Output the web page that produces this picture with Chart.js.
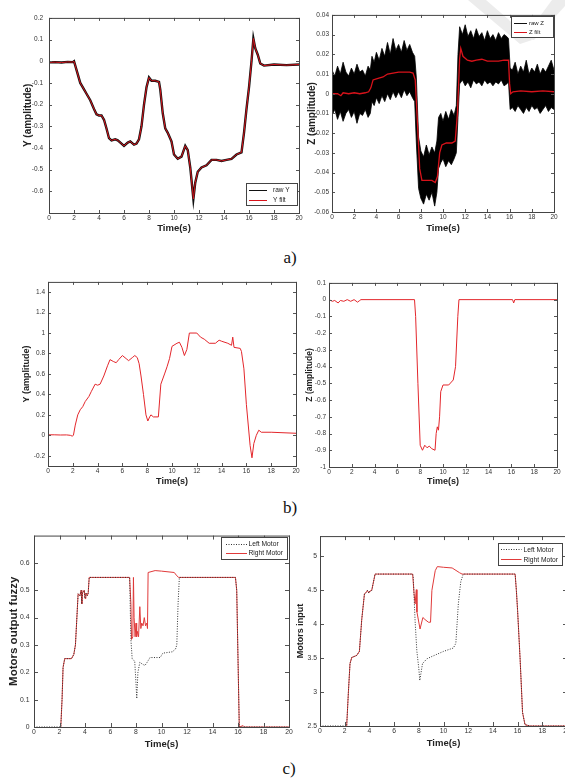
<!DOCTYPE html>
<html><head><meta charset="utf-8">
<script src="https://cdn.jsdelivr.net/npm/chart.js@4.4.1/dist/chart.umd.min.js"></script>
<style>
html,body{margin:0;padding:0;background:#fff;}
body{width:565px;height:778px;overflow:hidden;position:relative;}
canvas{position:absolute;}
.lab{position:absolute;font-family:"Liberation Serif","Times New Roman",serif;font-size:17px;color:#111;transform:translate(-50%,-50%);}
#wm{position:absolute;left:0;top:0;}
</style></head><body>
<svg id="wm" width="565" height="778"><polygon points="468,0 486,0 532,40 520,44" fill="#ececec"/><polygon points="552,0 565,0 565,6 534,40 524,38" fill="#ececec"/></svg>
<canvas id="a1"></canvas><canvas id="a2"></canvas>
<canvas id="b1"></canvas><canvas id="b2"></canvas>
<canvas id="c1"></canvas><canvas id="c2"></canvas>
<div class="lab" style="left:290px;top:258px">a)</div>
<div class="lab" style="left:290px;top:508px">b)</div>
<div class="lab" style="left:289px;top:769px">c)</div>
<script>
// ---------- DATA ----------
const xTicks=[0,2,4,6,8,10,12,14,16,18,20];

// a) left : Y raw / Y filt
const yT=[0,0.5,1,1.5,1.9,2.0,2.2,2.5,2.8,3.0,3.3,3.6,3.8,4.0,4.2,4.4,4.6,4.8,5.0,5.3,5.5,5.8,6.0,6.3,6.5,6.8,7.0,7.2,7.4,7.6,7.8,8.0,8.2,8.5,8.8,8.9,9.1,9.3,9.5,9.8,10.0,10.3,10.6,10.9,11.1,11.3,11.55,11.7,11.9,12.2,12.6,13.0,13.4,13.8,14.2,14.6,15.0,15.4,15.6,15.8,16.0,16.2,16.35,16.5,16.7,16.9,17.2,18,19,20];
const yFilt=[-0.005,-0.004,-0.006,-0.003,-0.004,0.0,-0.04,-0.1,-0.13,-0.15,-0.18,-0.22,-0.245,-0.25,-0.25,-0.27,-0.31,-0.355,-0.365,-0.36,-0.365,-0.38,-0.39,-0.375,-0.37,-0.385,-0.38,-0.36,-0.3,-0.2,-0.12,-0.075,-0.09,-0.09,-0.095,-0.13,-0.24,-0.31,-0.33,-0.37,-0.43,-0.45,-0.44,-0.39,-0.41,-0.49,-0.635,-0.56,-0.51,-0.49,-0.48,-0.455,-0.455,-0.46,-0.455,-0.45,-0.43,-0.42,-0.33,-0.22,-0.12,0.0,0.105,0.06,0.03,-0.01,-0.02,-0.015,-0.018,-0.015];
const yRaw=[-0.005,-0.004,-0.006,-0.003,-0.004,0.0,-0.04,-0.1,-0.13,-0.15,-0.18,-0.22,-0.245,-0.25,-0.25,-0.27,-0.31,-0.355,-0.365,-0.36,-0.365,-0.38,-0.39,-0.375,-0.37,-0.385,-0.38,-0.36,-0.3,-0.2,-0.12,-0.075,-0.09,-0.09,-0.095,-0.13,-0.24,-0.31,-0.33,-0.37,-0.43,-0.45,-0.44,-0.39,-0.41,-0.49,-0.635,-0.56,-0.51,-0.49,-0.48,-0.455,-0.455,-0.46,-0.455,-0.45,-0.43,-0.42,-0.33,-0.22,-0.12,0.0,0.105,0.06,0.03,-0.01,-0.02,-0.015,-0.018,-0.015];
const a1YTicks=[-0.6,-0.5,-0.4,-0.3,-0.2,-0.1,0,0.1,0.2];

// a) right : Z raw (band envelope) / Z filt
const zT=[0,0.5,0.8,1.0,1.5,2.0,2.5,3.0,3.3,3.5,3.7,4.0,4.3,4.6,5.0,5.5,6.0,6.5,7.0,7.3,7.5,7.7,7.9,8.1,8.5,9.0,9.3,9.5,9.7,9.9,10.3,10.8,11.1,11.3,11.5,11.6,11.8,12.2,12.6,13.0,13.5,14.0,14.5,15.0,15.5,15.9,16.0,16.1,16.3,17,18,19,20];
const zFilt=[0.0,0.0,-0.001,0.0005,0.0,0.0005,0.0,0.0005,0.001,0.003,0.007,0.0075,0.008,0.0085,0.01,0.0105,0.011,0.011,0.011,0.0105,0.007,-0.015,-0.038,-0.044,-0.044,-0.044,-0.045,-0.042,-0.03,-0.026,-0.025,-0.025,-0.024,-0.01,0.018,0.023,0.019,0.017,0.0165,0.017,0.0175,0.0165,0.0165,0.0165,0.017,0.017,0.005,0.0,0.001,0.0015,0.001,0.0015,0.001];
const zEnvT=[0,0.25,0.5,0.75,1,1.25,1.5,1.75,2,2.25,2.5,2.75,3,3.25,3.45,3.6,3.8,4,4.25,4.5,4.75,5,5.25,5.5,5.75,6,6.25,6.5,6.75,7,7.25,7.45,7.6,7.8,8,8.25,8.5,8.75,9,9.25,9.45,9.6,9.8,10,10.25,10.5,10.75,11,11.2,11.35,11.5,11.75,12,12.25,12.5,12.75,13,13.25,13.5,13.75,14,14.25,14.5,14.75,15,15.25,15.5,15.75,15.9,16.05,16.25,16.5,16.75,17,17.25,17.5,17.75,18,18.25,18.5,18.75,19,19.25,19.5,19.75,20];
const zRawUp=[0.012,0.009,0.014,0.010,0.016,0.011,0.009,0.013,0.010,0.015,0.011,0.012,0.009,0.014,0.012,0.019,0.016,0.021,0.017,0.023,0.019,0.026,0.020,0.028,0.022,0.025,0.021,0.027,0.022,0.025,0.021,0.019,0.008,-0.022,-0.029,-0.032,-0.026,-0.031,-0.027,-0.030,-0.024,-0.012,-0.010,-0.014,-0.009,-0.013,-0.008,-0.011,-0.006,0.020,0.034,0.030,0.035,0.029,0.032,0.028,0.033,0.029,0.031,0.027,0.032,0.028,0.030,0.027,0.031,0.028,0.030,0.029,0.028,0.013,0.012,0.016,0.010,0.014,0.011,0.017,0.010,0.013,0.011,0.015,0.010,0.013,0.011,0.014,0.017,0.012];
const zRawLo=[-0.011,-0.008,-0.013,-0.009,-0.014,-0.010,-0.008,-0.012,-0.009,-0.015,-0.010,-0.011,-0.008,-0.012,-0.010,-0.004,-0.006,-0.002,-0.005,-0.001,-0.004,0.000,-0.003,0.001,-0.002,0.001,-0.002,0.002,-0.001,0.001,-0.002,-0.004,-0.025,-0.048,-0.053,-0.056,-0.051,-0.054,-0.050,-0.057,-0.050,-0.038,-0.035,-0.033,-0.037,-0.034,-0.036,-0.033,-0.030,-0.012,0.005,0.007,0.004,0.006,0.003,0.007,0.005,0.006,0.004,0.007,0.005,0.006,0.004,0.006,0.005,0.007,0.004,0.005,0.006,-0.008,-0.007,-0.009,-0.006,-0.008,-0.010,-0.007,-0.009,-0.006,-0.008,-0.007,-0.010,-0.008,-0.006,-0.009,-0.007,-0.008];
const a2YTicks=[-0.06,-0.05,-0.04,-0.03,-0.02,-0.01,0,0.01,0.02,0.03,0.04];

// b) left : Y
const bT=[0,0.5,1,1.5,1.8,1.95,2.05,2.2,2.4,2.6,2.8,3.0,3.3,3.5,3.8,4.0,4.2,4.5,4.8,5.0,5.3,5.5,5.7,6.0,6.3,6.5,6.8,7.0,7.2,7.35,7.5,7.7,7.9,8.05,8.2,8.3,8.5,8.9,9.1,9.4,9.6,9.8,10.0,10.4,10.6,10.8,11.0,11.2,11.4,12.0,12.3,12.6,13.0,13.5,13.8,14.0,14.5,14.8,14.9,15.0,15.5,15.6,15.8,16.0,16.3,16.45,16.6,16.8,17.0,17.2,18,20];
const bY=[0.005,0.005,0.003,0.004,0.0,-0.008,0.0,0.1,0.2,0.25,0.28,0.33,0.38,0.43,0.5,0.49,0.5,0.58,0.68,0.74,0.72,0.71,0.74,0.78,0.75,0.73,0.76,0.78,0.76,0.7,0.58,0.4,0.2,0.14,0.18,0.2,0.18,0.18,0.5,0.6,0.67,0.75,0.87,0.9,0.91,0.86,0.78,0.84,1.0,1.0,0.96,0.94,0.9,0.9,0.93,0.92,0.9,0.88,0.96,0.86,0.85,0.82,0.65,0.3,-0.1,-0.22,-0.08,0.0,0.05,0.03,0.03,0.02];
const b1YTicks=[-0.2,0,0.2,0.4,0.6,0.8,1,1.2,1.4];

// b) right : Z
const bzT=[0,0.3,0.5,0.8,1.0,1.3,1.6,1.9,2.2,2.5,2.7,2.8,7.5,7.6,7.8,8.0,8.2,8.4,8.6,8.8,9.0,9.3,9.4,9.5,9.6,9.7,9.8,10.0,10.5,10.9,11.1,11.3,11.4,16.1,16.2,16.3,20];
const bZ=[0,-0.01,-0.005,-0.02,-0.005,-0.01,0,-0.01,0,-0.015,-0.005,0,0,-0.1,-0.5,-0.87,-0.9,-0.87,-0.885,-0.875,-0.89,-0.9,-0.8,-0.76,-0.78,-0.7,-0.55,-0.51,-0.51,-0.48,-0.4,-0.1,0,0,-0.02,0,0];
const b2YTicks=[-1,-0.9,-0.8,-0.7,-0.6,-0.5,-0.4,-0.3,-0.2,-0.1,0,0.1];

// c) left : Motors output fuzzy
const c1LT=[0,2.1,2.2,2.28,2.41,2.94,3.12,3.25,3.46,3.6,3.7,3.75,3.8,3.94,4.0,4.07,4.18,4.25,4.33,7.5,7.6,7.7,7.9,7.95,8.0,8.06,8.15,8.3,8.5,8.7,8.85,9.1,9.9,10.1,10.85,11.1,11.2,11.3,11.4,15.8,15.9,16.0,16.1,20];
const c1Left=[0,0,0.1,0.218,0.25,0.25,0.265,0.3,0.487,0.48,0.5,0.45,0.49,0.5,0.47,0.49,0.48,0.49,0.547,0.547,0.32,0.25,0.24,0.2,0.16,0.104,0.2,0.236,0.23,0.225,0.235,0.254,0.254,0.27,0.275,0.285,0.3,0.45,0.547,0.547,0.5,0.25,0.0,0];
const c1RT=[2.1,2.2,2.28,2.41,2.94,3.12,3.25,3.46,3.6,3.7,3.75,3.8,3.94,4.0,4.07,4.18,4.25,4.33,7.5,7.6,7.65,7.75,7.8,7.85,7.93,8.0,8.05,8.1,8.2,8.3,8.38,8.45,8.55,8.65,8.75,8.85,8.9,8.95,9.5,10.0,11.0,11.2,11.35,15.8,15.9,16.0,16.1,16.4,16.5,20];
const c1Right=[0,0.1,0.218,0.25,0.25,0.265,0.3,0.487,0.48,0.5,0.45,0.49,0.5,0.47,0.49,0.48,0.49,0.547,0.547,0.45,0.32,0.33,0.547,0.4,0.33,0.38,0.33,0.35,0.33,0.44,0.36,0.38,0.37,0.4,0.37,0.38,0.36,0.565,0.572,0.57,0.565,0.553,0.547,0.547,0.5,0.25,0.0,0.005,0.0,0];
const c1YTicks=[0,0.1,0.2,0.3,0.4,0.5,0.6];

// c) right : Motors input
const c2LT=[0,2.16,2.3,2.43,2.57,2.97,3.19,3.38,3.6,3.75,3.84,3.95,4.05,4.19,4.46,4.6,7.5,7.55,7.7,7.84,8.0,8.08,8.3,8.65,9.0,10.0,10.8,11.0,11.2,11.4,11.6,15.8,15.9,16.0,16.2,16.4,16.6,17.0,20];
const c2Left=[2.5,2.5,3.0,3.42,3.51,3.54,3.6,4.07,4.45,4.47,4.5,4.46,4.49,4.5,4.74,4.74,4.74,4.7,4.05,3.61,3.35,3.17,3.42,3.49,3.52,3.6,3.65,3.72,4.3,4.63,4.74,4.74,4.5,4.2,3.5,2.7,2.52,2.5,2.5];
const c2RT=[2.16,2.3,2.43,2.57,2.97,3.19,3.38,3.6,3.75,3.84,3.95,4.05,4.19,4.46,4.6,7.5,7.62,7.7,7.8,7.85,8.1,8.33,8.5,8.78,8.95,9.06,9.33,9.5,10.0,10.7,11.3,11.5,15.8,15.9,16.0,16.2,16.4,16.6,17.0,20];
const c2Right=[2.5,3.0,3.42,3.51,3.54,3.6,4.07,4.45,4.47,4.5,4.46,4.49,4.5,4.74,4.74,4.74,4.45,4.3,4.51,4.18,3.93,4.1,4.07,4.03,4.03,4.5,4.79,4.85,4.84,4.83,4.76,4.74,4.74,4.5,4.2,3.5,2.7,2.52,2.5,2.5];
const c2YTicks=[2.5,3,3.5,4,4.5,5];

// ---------- RENDERING ----------
const FF='"Liberation Sans", Arial, sans-serif';
function pts(t,v){return t.map((x,i)=>({x:x,y:v[i]}));}

const framePlugin={id:'frame',afterDatasetsDraw(chart,args,o){
  const {ctx,chartArea:c,scales:{x,y}}=chart;const L=o.len;
  ctx.save();ctx.strokeStyle='#555';ctx.lineWidth=1;ctx.beginPath();
  x.ticks.forEach(t=>{const p=Math.round(x.getPixelForValue(t.value))+0.5;
    ctx.moveTo(p,c.bottom);ctx.lineTo(p,c.bottom-L);ctx.moveTo(p,c.top);ctx.lineTo(p,c.top+L);});
  y.ticks.forEach(t=>{const p=Math.round(y.getPixelForValue(t.value))+0.5;
    ctx.moveTo(c.left,p);ctx.lineTo(c.left+L,p);ctx.moveTo(c.right,p);ctx.lineTo(c.right-L,p);});
  ctx.stroke();
  ctx.strokeStyle='#444';
  ctx.strokeRect(c.left+0.5,c.top+0.5,c.right-c.left,c.bottom-c.top);
  ctx.restore();
}};
const legendPlugin={id:'mleg',afterDraw(chart,args,o){
  if(!o||!o.box)return;
  const ctx=chart.ctx,ox=o.ox,oy=o.oy,b=o.box;
  ctx.save();
  ctx.fillStyle='#fff';ctx.fillRect(b[0]-ox,b[1]-oy,b[2]-b[0],b[3]-b[1]);
  ctx.strokeStyle='#444';ctx.lineWidth=1;
  ctx.strokeRect(Math.round(b[0]-ox)+0.5,Math.round(b[1]-oy)+0.5,b[2]-b[0],b[3]-b[1]);
  ctx.font=o.size+'px '+FF;ctx.textBaseline='middle';ctx.textAlign='left';
  o.items.forEach(it=>{
    ctx.beginPath();ctx.strokeStyle=it.color;ctx.lineWidth=1;ctx.setLineDash(it.dash||[]);
    const yy=Math.round(it.y-oy)+0.5;
    ctx.moveTo(o.lx[0]-ox,yy);ctx.lineTo(o.lx[1]-ox,yy);ctx.stroke();ctx.setLineDash([]);
    ctx.fillStyle='#222';ctx.fillText(it.label,o.tx-ox,it.y-oy+0.5);
  });
  ctx.restore();
}};

function makeChart(id,f,datasets,yTicks,legend){
  const lhY=f.ys*1.2,lhX=f.xs*1.2;
  const cl=Math.round(f.ytx-lhY/2),ct=f.T-6,cb=Math.round(f.xty+lhX/2);
  const wY=f.L-cl,hX=cb-f.B,W=f.R-cl+8,H=cb-ct;
  const cv=document.getElementById(id);
  cv.width=W;cv.height=H;cv.style.left=cl+'px';cv.style.top=ct+'px';
  const tf={size:f.tfs,family:FF};
  new Chart(cv,{type:'line',data:{datasets:datasets},options:{
    responsive:false,animation:false,devicePixelRatio:1,
    layout:{padding:{left:0,top:6,right:8,bottom:0}},
    elements:{point:{radius:0},line:{tension:0,borderWidth:1}},
    plugins:{legend:{display:false},tooltip:{enabled:false},frame:{len:f.tl},
      mleg:legend?Object.assign({ox:cl,oy:ct},legend):{}},
    scales:{
      x:{type:'linear',min:0,max:20,
        afterBuildTicks:s=>{s.ticks=xTicks.map(v=>({value:v}));},
        afterFit:s=>{s.height=hX;},
        grid:{display:false,drawTicks:false},border:{display:false},
        ticks:{font:tf,color:'#333',padding:f.xp,autoSkip:false,maxRotation:0,callback:v=>String(v)},
        title:{display:true,text:'Time(s)',font:{size:f.xs,weight:'bold',family:FF},color:'#222',padding:0}},
      y:{type:'linear',min:f.ymin,max:f.ymax,
        afterBuildTicks:s=>{s.ticks=yTicks.map(v=>({value:v}));},
        afterFit:s=>{s.width=wY;},
        grid:{display:false,drawTicks:false},border:{display:false},
        ticks:{font:tf,color:'#333',padding:f.yp,autoSkip:false,callback:v=>String(v)},
        title:{display:true,text:f.yt,font:{size:f.ys,weight:'bold',family:FF},color:'#222',padding:0}}
    }},plugins:[framePlugin,legendPlugin]});
}

const RED='#d8121a';
// a1
makeChart('a1',{L:49,T:14,R:299,B:213,ytx:28,ys:10,xty:228,xs:9.5,yp:6,xp:1.5,tl:3,tfs:6.5,ymin:-0.7,ymax:0.2,yt:'Y (amplitude)'},
 [{data:pts(yT,yFilt),borderColor:RED,borderWidth:1},
  {data:pts(yT,yRaw),borderColor:'#111',borderWidth:2.4}],a1YTicks,
 {box:[246,183,297,205],lx:[249,267],tx:273,size:6.5,items:[{label:'raw Y',color:'#111',y:189.5},{label:'Y filt',color:RED,y:199.5}]});
// a2
makeChart('a2',{L:332,T:14,R:554,B:212,ytx:311.7,ys:10,xty:228,xs:9.5,yp:3,xp:1.5,tl:3,tfs:6.5,ymin:-0.06,ymax:0.04,yt:'Z (amplitude)'},
 [{data:pts(zT,zFilt),borderColor:RED,borderWidth:1.3},
  {data:pts(zEnvT,zRawUp),borderColor:'#000',borderWidth:0.8,backgroundColor:'#000',fill:'+1'},
  {data:pts(zEnvT,zRawLo),borderColor:'#000',borderWidth:0.8}],a2YTicks,
 {box:[511,16,553,37],lx:[514,527],tx:529,size:6,items:[{label:'raw Z',color:'#111',y:23.3},{label:'Z filt',color:RED,y:32.3}]});
// b1
makeChart('b1',{L:48,T:281,R:296,B:466,ytx:26.7,ys:9,xty:482,xs:9,yp:3,xp:1.5,tl:3,tfs:6.5,ymin:-0.3,ymax:1.5,yt:'Y (amplitude)'},
 [{data:pts(bT,bY),borderColor:'#e3262b',borderWidth:1}],b1YTicks,null);
// b2
makeChart('b2',{L:329,T:282,R:557,B:467,ytx:310,ys:8.5,xty:482,xs:9,yp:3,xp:1.5,tl:3,tfs:6.5,ymin:-1,ymax:0.1,yt:'Z (amplitude)'},
 [{data:pts(bzT,bZ),borderColor:'#e3262b',borderWidth:1}],b2YTicks,null);
// c1
makeChart('c1',{L:34,T:533,R:289,B:727,ytx:14,ys:11.5,xty:744,xs:9.5,yp:4.5,xp:1.5,tl:4,tfs:6.8,ymin:0,ymax:0.7,yt:'Motors output fuzzy'},
 [{data:pts(c1LT,c1Left),borderColor:'#333',borderWidth:1,borderDash:[1,1.5]},
  {data:pts(c1RT,c1Right),borderColor:'#e03a3a',borderWidth:1}],c1YTicks,
 {box:[221,537,287,559],lx:[226,247],tx:248.5,size:6.7,items:[{label:'Left Motor',color:'#333',dash:[1,1.5],y:543.5},{label:'Right Motor',color:'#e03a3a',y:552.7}]});
// c2
makeChart('c2',{L:320,T:535,R:567,B:726,ytx:300.7,ys:9,xty:743,xs:9.5,yp:3,xp:1.5,tl:4,tfs:6.8,ymin:2.5,ymax:5.3,yt:'Motors input'},
 [{data:pts(c2LT,c2Left),borderColor:'#333',borderWidth:1,borderDash:[1,1.5]},
  {data:pts(c2RT,c2Right),borderColor:'#e03a3a',borderWidth:1}],c2YTicks,
 {box:[498,543,562,565],lx:[501,521.5],tx:523.5,size:6.7,items:[{label:'Left Motor',color:'#333',dash:[1,1.5],y:549.3},{label:'Right Motor',color:'#e03a3a',y:559.3}]});
</script>
</body></html>
